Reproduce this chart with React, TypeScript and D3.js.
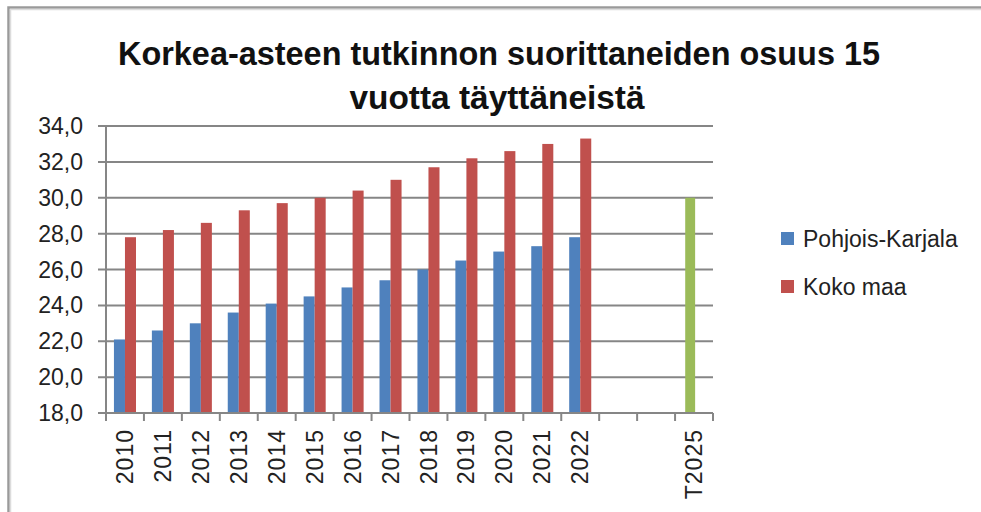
import React from "react";
import * as d3 from "d3";

// kategoriat (kaksi tyhjää väliä ennen tavoitevuotta)
const categories = ["2010", "2011", "2012", "2013", "2014", "2015", "2016", "2017", "2018", "2019", "2020", "2021", "2022", "", "", "T2025"];
const pohjoisKarjala = [22.1, 22.6, 23.0, 23.6, 24.1, 24.5, 25.0, 25.4, 26.0, 26.5, 27.0, 27.3, 27.8, null, null, null];
const kokoMaa = [27.8, 28.2, 28.6, 29.3, 29.7, 30.0, 30.4, 31.0, 31.7, 32.2, 32.6, 33.0, 33.3, null, null, null];
const tavoite = [null, null, null, null, null, null, null, null, null, null, null, null, null, null, null, 30.0];
const yTicks = [18, 20, 22, 24, 26, 28, 30, 32, 34];
const seriesNames = ["Pohjois-Karjala", "Koko maa"];
const titleLines = ["Korkea-asteen tutkinnon suorittaneiden osuus 15", "vuotta täyttäneistä"];

const colors = { blue: "#4F81BD", red: "#C0504D", green: "#9BBB59", grid: "#868686" };
const font = "'Liberation Sans', Arial, sans-serif";

export default function App() {
  const W = 981, H = 512;
  const left = 106, right = 713, top = 126, bottom = 413;

  const idx = categories.map((_, i) => String(i));
  const x = d3.scaleBand().domain(idx).range([left, right]).paddingInner(0).paddingOuter(0);
  const xSub = d3.scaleBand().domain(seriesNames).range([0, x.bandwidth()]).paddingInner(0).paddingOuter(0.72);
  const y = d3.scaleLinear().domain([18, 34]).range([bottom, top]);
  const fmt = (v: number) => d3.format(".1f")(v).replace(".", ",");

  const series = [
    { name: seriesNames[0], values: pohjoisKarjala, color: colors.blue },
    { name: seriesNames[1], values: kokoMaa, color: colors.red },
  ];
  const bw = xSub.bandwidth();
  const boundaries = idx.map((d) => x(d)!).concat([right]);

  return (
    <svg width={W} height={H} style={{ position: "absolute", left: 0, top: 0, background: "#fff" }} fontFamily={font}>
      {/* kehys */}
      <rect x={8.5} y={7.5} width={W + 20} height={H + 20} fill="none" stroke="#9a9a9a" strokeWidth={2.5} />
      <rect x={10.5} y={9.5} width={W + 20} height={H + 20} fill="none" stroke="#dcdcdc" strokeWidth={1.5} />

      {/* otsikko */}
      <text x={499} y={65} textAnchor="middle" fontSize={34} fontWeight="bold" fill="#111"
        textLength={762} lengthAdjust="spacingAndGlyphs">{titleLines[0]}</text>
      <text x={497} y={109} textAnchor="middle" fontSize={34} fontWeight="bold" fill="#111"
        textLength={295} lengthAdjust="spacingAndGlyphs">{titleLines[1]}</text>

      {/* ruudukko + y-akseli */}
      {yTicks.map((t) => (
        <g key={t}>
          <line x1={left - 8} x2={right} y1={y(t)} y2={y(t)} stroke={colors.grid} strokeWidth={2} />
          <text x={83} y={y(t)} dy="0.35em" textAnchor="end" fontSize={23} fill="#222">{fmt(t)}</text>
        </g>
      ))}
      <line x1={left} x2={left} y1={top} y2={bottom} stroke={colors.grid} strokeWidth={2} />

      {/* pylväät */}
      {series.map((s) =>
        s.values.map((v, i) =>
          v == null ? null : (
            <rect key={s.name + i} x={x(String(i))! + xSub(s.name)!} y={y(v)} width={bw} height={bottom - y(v)} fill={s.color} />
          )
        )
      )}
      {tavoite.map((v, i) =>
        v == null ? null : (
          <rect key={"t" + i} x={x(String(i))! + x.bandwidth() / 2 - bw * 0.8} y={y(v)} width={bw * 0.9} height={bottom - y(v)} fill={colors.green} />
        )
      )}

      {/* x-akseli */}
      <line x1={left} x2={right} y1={bottom} y2={bottom} stroke={colors.grid} strokeWidth={2} />
      {boundaries.map((b, i) => (
        <line key={i} x1={b} x2={b} y1={bottom} y2={bottom + 8} stroke={colors.grid} strokeWidth={2} />
      ))}
      {categories.map((c, i) => (
        <text key={i} transform={`translate(${x(String(i))! + x.bandwidth() / 2},429) rotate(-90)`}
          dy="0.35em" textAnchor="end" fontSize={23} letterSpacing={1} fill="#222">{c}</text>
      ))}

      {/* selite */}
      {series.map((s, i) => (
        <g key={s.name} transform={`translate(781,${232 + i * 48})`}>
          <rect x={0} y={0} width={13} height={13} fill={s.color} />
          <text x={22} y={6.5} dy="0.35em" fontSize={23} fill="#222">{s.name}</text>
        </g>
      ))}
    </svg>
  );
}
